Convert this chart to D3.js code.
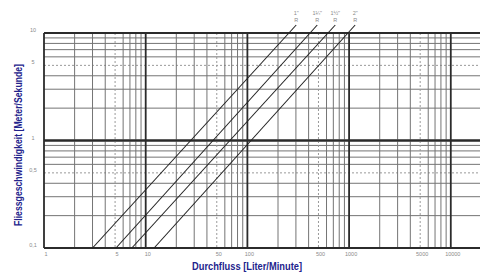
<!DOCTYPE html>
<html lang="de">
<head>
  <meta charset="UTF-8">
  <title>Durchfluss / Fliessgeschwindigkeit</title>
  <script src="https://d3js.org/d3.v7.min.js"></script>
  <style>
    body { margin: 0; background: #fff; }
    .tick-label { font-family: "Liberation Sans", Arial, sans-serif; font-size: 5.5px; fill: #8a8a8a; }
    .axis-title { font-family: "Liberation Sans", Arial, sans-serif; font-weight: bold; fill: #23238c; }
    .major { stroke: #2b2b2b; stroke-width: 1.8px; }
    .minor { stroke: #747474; stroke-width: 1px; }
    .half { stroke: #9a9a9a; stroke-width: 1px; stroke-dasharray: 2,2; }
    .pipe { fill: none; stroke: #222; stroke-width: 1.1px; }
  </style>
</head>
<body>
<svg id="chart" width="480" height="275"></svg>
<script>
  // tick labels
  const xTicks = [1, 5, 10, 50, 100, 500, 1000, 5000, 10000];
  const xTickLabels = ["1", "5", "10", "50", "100", "500", "1000", "5000", "10000"];
  const yTicks = [0.1, 0.5, 1, 5, 10];
  const yTickLabels = ["0,1", "0,5", "1", "5", "10"];

  // pipe lines: flow (L/min) at 0.1 m/s and at 10 m/s
  const pipeNames = ["1\"", "1¼\"", "1½\"", "2\""];
  const pipeSub = ["R", "R", "R", "R"];
  const flowAtLow = [3.0, 5.1, 7.3, 12.1];
  const flowAtHigh = [256, 413, 620, 975];

  const width = 480, height = 275;
  const svg = d3.select("#chart");

  const x = d3.scaleLog().domain([1, 20000]).range([44, 481.4]);
  const y = d3.scaleLog().domain([0.1, 10]).range([248, 33]);

  // grid values 1..9 per decade
  const xGrid = [], yGrid = [];
  [1, 10, 100, 1000, 10000].forEach(d => {
    for (let k = 1; k <= 9; k++) if (k * d <= 20000) xGrid.push(k * d);
  });
  [0.1, 1].forEach(d => {
    for (let k = 1; k <= 9; k++) yGrid.push(+(k * d).toFixed(2));
  });
  yGrid.push(10);

  const gridClass = v => {
    const m = Math.log10(v);
    if (Math.abs(m - Math.round(m)) < 1e-6) return "major";
    if (Math.abs(v / Math.pow(10, Math.floor(m + 1e-9)) - 5) < 1e-6) return "half";
    return "minor";
  };

  const grid = svg.append("g");
  // minor first, then dashed, then major on top
  const order = { minor: 0, half: 1, major: 2 };
  const ySorted = yGrid.slice().sort((a, b) => order[gridClass(a)] - order[gridClass(b)]);
  const xSorted = xGrid.slice().sort((a, b) => order[gridClass(a)] - order[gridClass(b)]);

  grid.selectAll(".hl")
    .data(ySorted)
    .join("line")
    .attr("class", d => gridClass(d))
    .attr("x1", x(1)).attr("x2", width + 2)
    .attr("y1", d => y(d)).attr("y2", d => y(d));

  grid.selectAll(".vl")
    .data(xSorted)
    .join("line")
    .attr("class", d => gridClass(d))
    .attr("x1", d => x(d)).attr("x2", d => x(d))
    .attr("y1", y(10)).attr("y2", y(0.1));

  // major horizontals again on top of the verticals
  grid.selectAll(".hm")
    .data(yGrid.filter(d => gridClass(d) === "major"))
    .join("line")
    .attr("class", "major")
    .attr("x1", x(1)).attr("x2", width + 2)
    .attr("y1", d => y(d)).attr("y2", d => y(d));

  // tick labels
  svg.append("g").selectAll("text")
    .data(xTicks)
    .join("text")
    .attr("class", "tick-label")
    .attr("x", d => x(d) + 2)
    .attr("y", 256)
    .attr("text-anchor", "middle")
    .text((d, i) => xTickLabels[i]);

  svg.append("g").selectAll("text")
    .data(yTicks)
    .join("text")
    .attr("class", "tick-label")
    .attr("x", 33)
    .attr("y", d => y(d) - 1)
    .attr("text-anchor", "middle")
    .text((d, i) => yTickLabels[i]);

  // pipe lines, extended above the frame to their labels
  const topY = 25;
  const vTop = y.invert(topY);
  const flowAt = (i, v) => {
    const t = (Math.log10(v) - Math.log10(0.1)) / (Math.log10(10) - Math.log10(0.1));
    return Math.pow(10, Math.log10(flowAtLow[i]) + t * (Math.log10(flowAtHigh[i]) - Math.log10(flowAtLow[i])));
  };

  const pipes = svg.append("g");
  flowAtLow.forEach((q, i) => {
    const x0 = x(q), y0 = y(0.1);
    const x1 = x(flowAt(i, vTop)), y1 = topY;
    pipes.append("line")
      .attr("class", "pipe")
      .attr("x1", x0).attr("y1", y0)
      .attr("x2", x1).attr("y2", y1);
    pipes.append("text")
      .attr("class", "tick-label")
      .attr("x", x1).attr("y", 15)
      .attr("text-anchor", "middle")
      .text(pipeNames[i]);
    pipes.append("text")
      .attr("class", "tick-label")
      .attr("x", x1).attr("y", 22)
      .attr("text-anchor", "middle")
      .text(pipeSub[i]);
  });

  // axis titles
  svg.append("text")
    .attr("class", "axis-title")
    .attr("x", 247).attr("y", 270)
    .attr("text-anchor", "middle")
    .attr("textLength", 110)
    .attr("lengthAdjust", "spacingAndGlyphs")
    .style("font-size", "10.5px")
    .text("Durchfluss [Liter/Minute]");

  svg.append("text")
    .attr("class", "axis-title")
    .attr("transform", "translate(22,145) rotate(-90)")
    .attr("text-anchor", "middle")
    .attr("textLength", 162)
    .attr("lengthAdjust", "spacingAndGlyphs")
    .style("font-size", "10px")
    .text("Fliessgeschwindigkeit [Meter/Sekunde]");
</script>
</body>
</html>
